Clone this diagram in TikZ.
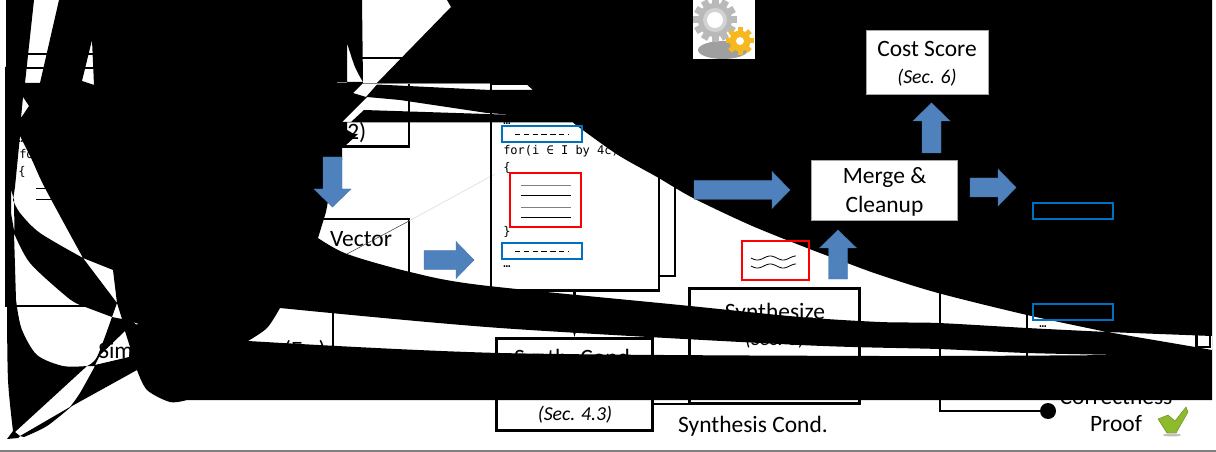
\documentclass[tikz,border=0pt]{standalone}
\usepackage{fontspec}
\setmainfont{Carlito}
\newfontfamily\codefont{DejaVu Sans Mono}
\usetikzlibrary{positioning,calc}
\definecolor{arrowblue}{HTML}{4F81BD}
\definecolor{codeblue}{HTML}{0070C0}
\definecolor{slipred}{HTML}{FF0000}
\definecolor{gearyellow}{HTML}{F5B81E}
\definecolor{checkgreen}{HTML}{8DBB2B}
\tikzset{
  lab/.style={font=\fontsize{17.6}{19}\selectfont,inner sep=0pt},
  sec/.style={font=\fontsize{14.8}{16}\selectfont\itshape,inner sep=0pt},
  code/.style={font=\fontsize{9}{10}\codefont,inner sep=0pt,anchor=west},
  heavyln/.style={line width=2.2pt},
  heavybox/.style={draw,line width=2.2pt,inner sep=0pt},
  thinln/.style={line width=0.7pt},
  whitebox/.style={draw=gray!70,fill=white,line width=0.6pt,inner sep=0pt,align=center},
  bluebox/.style={draw=codeblue,line width=1pt},
  redbox/.style={draw=slipred,line width=1pt},
  blockarrow/.style={fill=arrowblue,draw=arrowblue!90!black,line width=0.3pt},
  blob/.style={fill=black,even odd rule},
}
\begin{document}
\begin{tikzpicture}[x=0.75pt,y=-0.75pt]
  \useasboundingbox (0,0) rectangle (1216,452);
  \fill[white] (0,0) rectangle (1216,452);
  \draw[gray,line width=1.2pt] (0,451) -- (1216,451);
  % everything the black shape lies over
  \draw[line width=1.5pt] (10,54) -- (100,54);
  \draw[line width=1.5pt] (10,68) -- (100,68);
  \draw[line width=1pt] (5,306) -- (115,306);
  \node[code] (leftdots) at (18,142) {…};
  \node[code] (leftfor) at (19,155) {for(i ∈ I by 4c)};
  \node[code] (leftbrace) at (18,172) {\{};
  \foreach \y in {188,199}{%
    \draw[thinln] (36,\y) -- (60,\y);}
  \node[lab,anchor=west] (simtxt) at (98,350) {Simulate};
  \node[lab,anchor=east] (extxt) at (326,351) {(Ex.)};
  \draw[heavyln] (333,300) -- (333,360);
  % sketch box
  \draw[heavyln] (362,58) -- (409,58) -- (409,146.5) -- (335,146.5);
  \node[lab,anchor=west] (sketchsec) at (347,133) {2)};
  \draw[gray,line width=0.7pt] (363,83) -- (525,83);
  % vector box
  \draw[heavyln] (320,219) -- (409,219) -- (409,280);
  \node[lab] (vectortxt) at (361,239) {Vector};
  \coordinate (fadeA) at (347,254);
  \coordinate (fadeB) at (409,221);
  \coordinate (fadeC) at (495,174);
  \draw[black!75,line width=0.4pt] (fadeA) -- (fadeB);
  \draw[black!15,line width=0.4pt] (fadeB) -- (fadeC);
  % loop boxes
  \node[heavybox,minimum width=126pt,minimum height=155pt] (loopbox) at (575,187) {};
  \draw[heavyln] (659,150) -- (675,150) -- (675,276) -- (659,276);
  \node[code] (dotsA) at (503,123.5) {…};
  \node[code] (fortxt) at (503,151) {for(i ∈ I by 4c)};
  \node[code] (braceA) at (503,168) {\{};
  \node[code] (braceB) at (503,232) {\}};
  \node[code] (dotsB) at (503,266.5) {…};
  \foreach \y in {134,251}{%
    \draw[line width=0.7pt,dash pattern=on 4pt off 2.6pt] (515,\y) -- (568,\y);}
  \foreach \y/\c in {185/gray,195/black,207/gray,217/black}{%
    \draw[\c,line width=0.6pt] (521,\y) -- (571,\y);}
  % synth boxes
  \node[heavybox,minimum width=117pt,minimum height=69pt] (condbox) at (574.5,384.5) {};
  \node[lab] (condtxt) at (575,359) {Synth. Cond.};
  \node[sec] (condsec) at (575,415) {(Sec. 4.3)};
  \draw[heavyln] (652,404) -- (775,404);
  \draw[-latex,line width=1.6pt] (loopbox.south -| condbox.north) -- (condbox.north);
  \node[heavybox,minimum width=128pt,minimum height=86pt] (synthbox) at (774.5,346) {};
  \node[lab] (synthtxt) at (775,313) {Synthesize};
  \node[sec] (synthsec) at (775,340) {(Sec. 5)};
  % proof link
  \node[circle,fill=black,inner sep=0pt,minimum size=12pt] (proofdot) at (1048,411) {};
  \draw[heavyln] (940,285) |- (proofdot);
  \draw[heavyln] (1027,300) -- (1027,400);
  \node[code] (rightdots) at (1039,327) {…};
  \draw[heavyln] (1196.5,320) -- (1196.5,347) -- (1210,347) -- (1210,320);
  \node[lab] (prooftxtA) at (1116,397) {Correctness};
  % the black shape, holes as subpaths
  \path[blob]
    (6,0) -- (1212,0) -- (1212,400) -- (187,400)
      -- plot[smooth] coordinates {(187,400)(170,402)(147,390)(137,370)}
      -- (72,406) -- plot[smooth] coordinates {(72,406)(47,426)(24,437)}
      -- (20,436) -- (18,438) -- (7,439) -- (13,431)
      -- plot[smooth] coordinates {(13,431)(8,380)(7,307)}
      -- (5,306) -- (5,67) -- (6,67) -- cycle
    (34,0) -- (59,0) -- (40,83) -- (25,83) -- cycle
    (92,40) -- (94,85) -- (82,81) -- cycle
    (23,97) -- (29,106) -- (21,118) -- cycle
    (20,136) -- plot[smooth] coordinates {(20,136)(32,160)(45,188)(83,258)}
      -- plot[smooth] coordinates {(83,258)(40,233)(20,213)(13,200)} -- (15,187) -- cycle
    (11,189) -- (14,200) -- (14.5,233) -- (11,213) -- cycle
    (83,258) -- (113,270) -- (117,303) -- cycle
    (117,303) -- (122,319) -- (112,317) -- cycle
    (14,233) -- plot[smooth] coordinates {(14,233)(30,263)(67,297)(80,305)}
      -- (112,317)
      -- plot[smooth] coordinates {(112,317)(97,357)(87,366)}
      -- plot[smooth] coordinates {(87,366)(63,366)(37,355)(22,330)(17,307)} -- (16,300) -- cycle
    (125,331) -- (100,355) -- (95,365) -- (129,357) -- (130,347) -- cycle
    (87,366) -- (95,366) -- plot[smooth] coordinates {(95,366)(80,393)(70,407)}
      -- (20,436) -- (15,432) -- cycle
    (133,322) -- (139,324) -- (136,324.5) -- cycle
    (362,0) -- (447,0) -- (451,7) -- (377,83) -- (525,83) -- (533,90) -- (490,90)
      -- (377,84.5) -- (366,97) -- (353,93) -- (363,83) -- cycle
    (347,43) -- plot[smooth] coordinates {(347,43)(355,67)(363,82)} -- (347,82) -- cycle
    (367,97) -- (400,100) -- (487,113) -- (517,115) -- (364,110) -- (351,122) -- (342,122) -- cycle
    (347,122.5) -- (573,122.5)
      -- plot[smooth] coordinates {(573,122.5)(580,128)(618,155)(657,177)(693,198)(750,225)(807,248)(847,263)(880,275)(938,293)(1027,315)(1107,332)}
      -- plot[smooth] coordinates {(1107,332)(1027,328)(938,323)(880,322)(800,317)(680,305)(480,285)(410,272)(347,254)(318,238)}
      -- (326,212) -- (331,185) -- (342,160) -- (342,147) -- (345,146) -- (358,134) -- (354,134) -- (347,130) -- cycle
    (248,341) -- plot[smooth] coordinates {(248,341)(500,353)(880,356)(1120,355)}
      -- plot[smooth] coordinates {(1120,355)(1027,353)(938,349)(800,345)(500,328)(280,308)}
      -- plot[smooth] coordinates {(280,308)(267,328)(248,341)} -- cycle
    (1107,332) -- (1212,336) -- (1212,350) -- (1195,347) -- cycle;
  % on top of it
  \draw[gray,line width=0.5pt] (337,82.5) -- (347,82.5);
  \foreach \x/\y/\r/\l in {332.5/157/-90/50,424/260/0/50,694/190/0/96,838/279/90/49,931.5/153/90/50,970/187.5/0/46}{%
    \path[blockarrow,shift={(\x,\y)},rotate=\r]
      (0,-9.5) -- ({\l-18},-9.5) -- ({\l-18},-18.5) -- (\l,0) -- ({\l-18},18.5) -- ({\l-18},9.5) -- (0,9.5) -- cycle;}
  \node[whitebox,minimum width=91.5pt,minimum height=48pt] (costbox) at (927,62) {};
  \node[lab] (costtxt) at (927,49) {Cost Score};
  \node[sec] (costsec) at (927,78) {(Sec. 6)};
  \node[whitebox,minimum width=110pt,minimum height=45.5pt] (mergebox) at (884.5,190.5) {};
  \node[lab] (mergetxt) at (884.5,178) {Merge \&};
  \node[lab] (cleantxt) at (884.5,206) {Cleanup};
  \foreach \x/\y in {502/126,502/243,1033/203,1033/304}{%
    \draw[bluebox] (\x,\y) rectangle ++(80,16);}
  \draw[redbox] (510,173) rectangle (581,227);
  \draw[redbox] (742,241) rectangle (809,280);
  \foreach \y in {258,266}{%
    \draw[line width=0.6pt] plot[smooth,samples=60,domain=751:796] (\x,{\y+2*sin(14*(\x-751))});}
  % gears
  \fill[white] (693,0) rectangle (755,59);
  \begin{scope}
    \clip (693,0) rectangle (755,59);
    \fill[gray!75] (723,50) ellipse (25 and 9);
    \foreach \a in {0,30,...,330}{%
      \fill[gray!55,shift={(715,20)},rotate=\a] (-3.5,-22) rectangle (3.5,-14);}
    \fill[gray!55] (715,20) circle (17);
    \fill[gray!35] (715,20) circle (12);
    \fill[white] (715,20) circle (8);
    \foreach \a in {0,45,...,315}{%
      \fill[gearyellow,shift={(740,41)},rotate=\a] (-2.5,-14) rectangle (2.5,-8);}
    \fill[gearyellow] (740,41) circle (10.5);
    \fill[white] (740,41) circle (4);
  \end{scope}
  \node[lab] (synthcondtxt) at (753,426) {Synthesis Cond.};
  \node[lab] (prooftxtB) at (1116,424) {Proof};
  \fill[gray!50] (1172,435) ellipse (9 and 1.5);
  \path[fill=checkgreen,draw=checkgreen!70!black,line width=0.3pt]
    (1158,419) -- (1168,415) -- (1175,421) -- (1186,407) -- (1188,412) -- (1176,433) -- (1167,433) -- cycle;
\end{tikzpicture}
\end{document}
